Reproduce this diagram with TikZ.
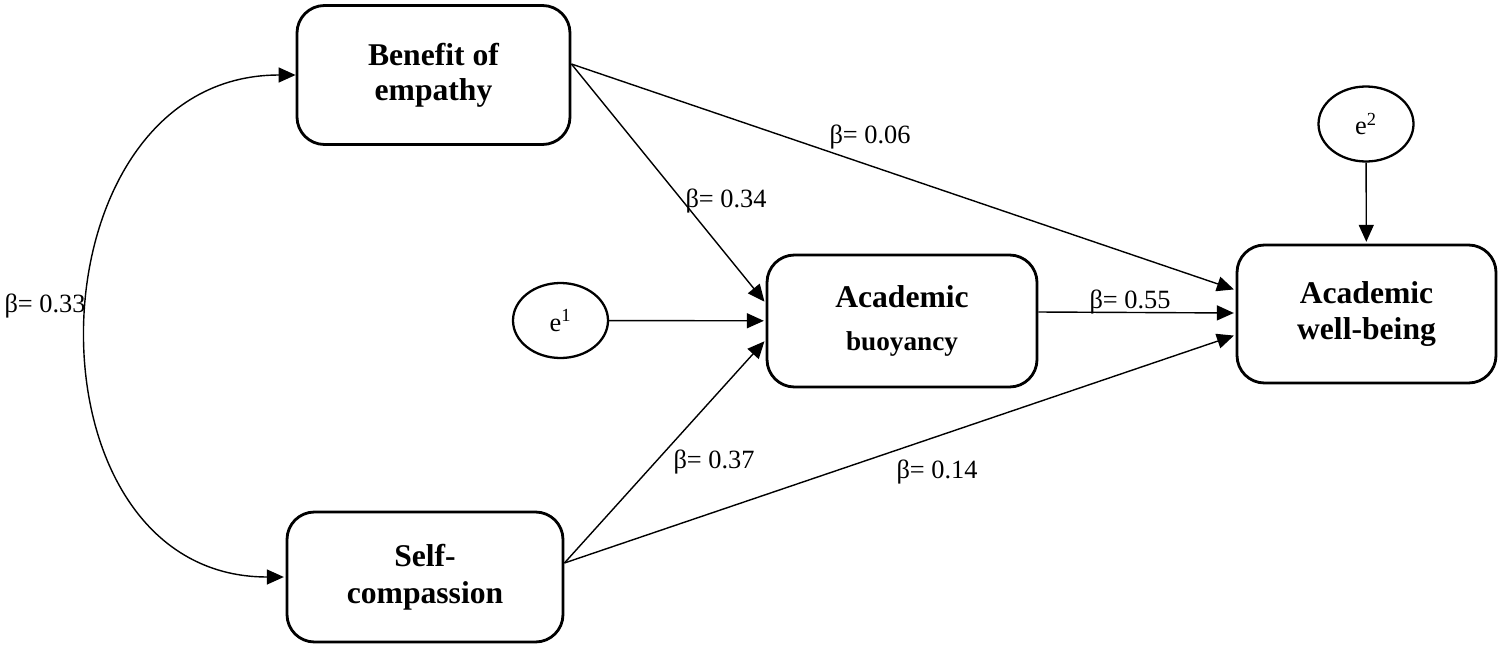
\documentclass[tikz,border=0pt]{standalone}
\usepackage{fontspec}
\setmainfont{Liberation Serif}
\usepackage{tikz}
\usetikzlibrary{arrows.meta,shapes.geometric}

\begin{document}
\begin{tikzpicture}[->,>={Triangle[length=0.34cm,width=0.3cm]},shorten >=1pt,
                    line width=0.8pt]
  \tikzstyle{box}=[draw, rounded corners=0.55cm, line width=1.6pt, inner sep=0pt,
                   align=center, font=\bfseries\fontsize{18}{20}\selectfont]
  \tikzstyle{err}=[draw, ellipse, line width=1.3pt, inner sep=0pt,
                   minimum width=1.9cm, minimum height=1.5cm, font=\fontsize{15}{18}\selectfont]
  \tikzstyle{beta}=[anchor=base, inner sep=0pt, font=\fontsize{15}{18}\selectfont]

  \useasboundingbox (0,0) rectangle (30,-12.96);

  \node[box, minimum width=5.46cm, minimum height=2.78cm] (bene) at (8.67,-1.5)  {Benefit of\\empathy};
  \node[box, minimum width=5.52cm, minimum height=2.6cm]  (self) at (8.5,-11.54) {Self-\\[1pt]compassion};
  \node[box, minimum width=5.4cm,  minimum height=2.64cm] (buoy) at (18.04,-6.42)
        {Academic\\[4pt]{\fontsize{15.5}{18}\selectfont buoyancy}};
  \node[box, minimum width=5.18cm, minimum height=2.76cm] (well) at (27.33,-6.28) {Academic\\well-being};
  \node[err] (e1) at (11.21,-6.41) {e\textsuperscript{1}};
  \node[err] (e2) at (27.32,-2.48) {e\textsuperscript{2}};

  % path coefficients
  \node[beta] (l33) at (0.9,-6.24)   {β= 0.33};
  \node[beta] (l06) at (17.4,-2.86)  {β= 0.06};
  \node[beta] (l34) at (14.52,-4.14) {β= 0.34};
  \node[beta] (l55) at (22.6,-6.16)  {β= 0.55};
  \node[beta] (l37) at (14.28,-9.36) {β= 0.37};
  \node[beta] (l14) at (18.74,-9.56) {β= 0.14};

  \draw[<->] (bene.west) to[out=180,in=180,looseness=1.375] (self.west);
  \draw ([yshift=0.22cm]bene.east) -- ([yshift=0.48cm]well.west);
  \draw ([yshift=0.22cm]bene.east) -- ([yshift=0.36cm]buoy.west);
  \draw (e1) -- (buoy);
  \draw ([yshift=0.28cm]self.east) -- ([yshift=-0.38cm]buoy.west);
  \draw ([yshift=0.28cm]self.east) -- ([yshift=-0.42cm]well.west);
  \draw ([yshift=0.18cm]buoy.east) -- ([yshift=0.02cm]well.west);
  \draw (e2) -- (well);
\end{tikzpicture}
\end{document}
